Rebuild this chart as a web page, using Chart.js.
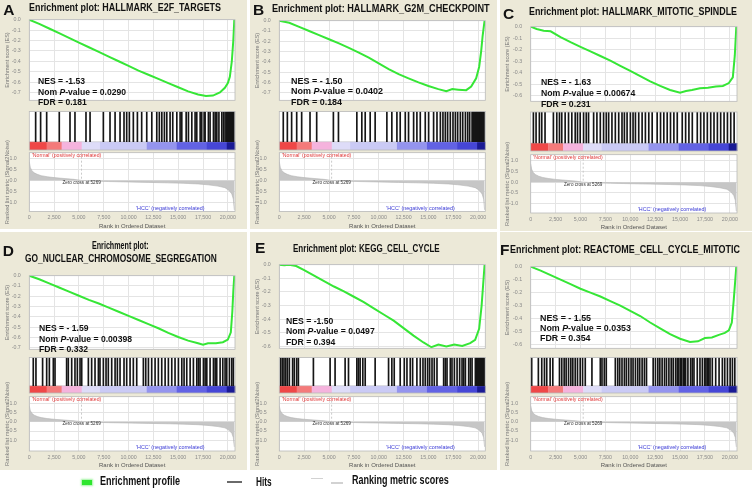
<!DOCTYPE html>
<html><head><meta charset="utf-8">
<script src="https://cdn.jsdelivr.net/npm/chart.js@4.4.1/dist/chart.umd.min.js"></script>
<style>
html,body{margin:0;padding:0;background:#fff}
body{width:752px;height:503px;position:relative;overflow:hidden;font-family:"Liberation Sans",Arial,sans-serif}
.panel{position:absolute;background:#ece9d8}
canvas{position:absolute;display:block}
.txt{position:absolute;white-space:nowrap;transform-origin:0 50%;color:#111}
.sw{position:absolute}
</style></head><body>
<script>
// ---------------- DATA ----------------
const XMAX = 20720;
const xTickValues = [0, 2500, 5000, 7500, 10000, 12500, 15000, 17500, 20000];
const rankedTicks = [1.0, 0.5, 0.0, -0.5, -1.0];
const esTicks7 = [0, -0.1, -0.2, -0.3, -0.4, -0.5, -0.6, -0.7];
const esTicks6 = [0, -0.1, -0.2, -0.3, -0.4, -0.5, -0.6];

const metricRanks  = [0, 100, 250, 500, 800, 1200, 1800, 2500, 3500, 4500, 5269, 6500, 8000, 10000, 12000, 14000, 15500, 17000, 18000, 19000, 19700, 20100, 20400, 20550, 20650];
const metricValues = [0.85, 0.6, 0.45, 0.35, 0.28, 0.22, 0.17, 0.13, 0.09, 0.05, 0, -0.03, -0.05, -0.07, -0.09, -0.11, -0.13, -0.16, -0.2, -0.26, -0.33, -0.45, -0.62, -0.85, -1.35];
const zeroCross = 5269;

const bandEdges  = [0, 1750, 3260, 5280, 7120, 11830, 14850, 17880, 19890, 20720];
const bandColors = ['#ef4747', '#f47a7a', '#f5b3dd', '#dedcf8', '#cacaf5', '#9494ee', '#6262e4', '#4646d6', '#1a1a94'];

const panelLetters = ['A', 'B', 'C', 'D', 'E', 'F'];
const geneSets = ['HALLMARK_E2F_TARGETS', 'HALLMARK_G2M_CHECKPOINT', 'HALLMARK_MITOTIC_SPINDLE', 'GO_NUCLEAR_CHROMOSOME_SEGREGATION', 'KEGG_CELL_CYCLE', 'REACTOME_CELL_CYCLE_MITOTIC'];
const nesValues = ['-1.53', '- 1.50', '- 1.63', '- 1.59', '-1.50', '- 1.55'];
const pValues   = ['0.0290', '0.0402', '0.00674', '0.00398', '0.0497', '0.0353'];
const fdrValues = ['0.181', '0.184', '0.231', '0.332', '0.394', '0.354'];

const esRanksA  = [0,1000,2000,3000,4000,5000,6000,7000,8000,9000,10000,11000,12000,13000,14000,15000,16000,17000,17800,18500,19200,19700,20000,20200,20400,20550,20650];
const esValuesA = [0,-0.04,-0.085,-0.13,-0.175,-0.22,-0.265,-0.31,-0.355,-0.40,-0.445,-0.49,-0.53,-0.57,-0.61,-0.65,-0.69,-0.72,-0.735,-0.73,-0.70,-0.655,-0.61,-0.55,-0.40,-0.20,0];
const hitsA = [640,1140,1750,3020,4100,4600,5710,6120,7460,8130,8640,9140,9540,9810,10080,10480,10890,11320,11830,12340,12840,13100,13350,13610,13850,14180,14450,14860,15190,15360,15800,16030,16370,16700,16870,17210,17370,17610,17710,18040,18210,18550,18720,18890,19100,19390,19560,19720,19850,19960,20040,20120,20200,20280,20360,20440,20520,20600];

const esRanksB  = [0,1000,2000,3000,4000,5000,6000,7000,8000,9000,10000,11000,12000,13000,14000,15000,16000,16800,17400,18000,18800,19300,19800,20100,20300,20450,20580,20650];
const esValuesB = [0,-0.02,-0.06,-0.10,-0.14,-0.18,-0.22,-0.265,-0.31,-0.36,-0.415,-0.47,-0.52,-0.56,-0.60,-0.635,-0.665,-0.685,-0.665,-0.67,-0.675,-0.64,-0.56,-0.45,-0.30,-0.15,-0.05,0];
const hitsB = [400,810,1240,1750,2250,3090,3760,5440,5950,7800,8300,8640,9140,9640,10820,11320,11830,12160,12670,13000,13510,13840,14180,14680,15020,15520,15860,16200,16460,16700,16930,17200,17470,17710,17940,18210,18450,18720,18950,19150,19390,19470,19550,19630,19710,19790,19870,19950,20030,20110,20190,20270,20350,20430,20510,20590];

const esRanksC  = [0,600,1300,2000,3000,4000,5000,6000,7000,8000,9000,10000,11000,12000,13000,14000,15000,15600,16200,17000,17800,18600,19300,19900,20300,20500,20650];
const esValuesC = [0,-0.02,-0.035,-0.04,-0.09,-0.135,-0.175,-0.215,-0.255,-0.295,-0.34,-0.385,-0.43,-0.475,-0.515,-0.55,-0.575,-0.56,-0.55,-0.535,-0.53,-0.52,-0.515,-0.49,-0.44,-0.25,0];
const hitsC = [270,540,870,1110,1440,2280,2620,2890,3120,3460,3800,4130,4470,4700,4970,5310,5580,5810,6320,6650,6990,7320,7590,7830,8160,8500,8840,9170,9410,9680,10010,10280,10520,10850,11190,11520,11860,12200,12700,13040,13370,13710,14040,14380,14720,15220,15560,15890,16230,16730,17070,17400,17740,18080,18410,18750,19080,19420,19760,20090,20430];

const esRanksD  = [0,1000,2000,3000,4000,5000,6000,7000,8000,9000,10000,11000,12000,13000,14000,15000,16000,17000,17500,18000,18800,19500,20000,20300,20450,20550,20650];
const esValuesD = [0,-0.035,-0.075,-0.115,-0.155,-0.195,-0.235,-0.27,-0.31,-0.35,-0.39,-0.43,-0.47,-0.51,-0.555,-0.595,-0.63,-0.655,-0.67,-0.655,-0.655,-0.645,-0.62,-0.55,-0.35,-0.15,0];
const hitsD = [400,670,1340,1750,2020,2420,2590,3760,3930,4270,4600,4840,5110,5280,5950,6280,6620,6960,7120,7460,7730,7960,8300,8640,8870,9140,9540,9810,10150,10480,10820,11490,11730,12000,12330,12670,13000,13340,13680,14010,14350,14680,15020,15360,15590,15860,16200,16530,16870,17040,17200,17540,17710,17880,18210,18550,18720,18880,19220,19490,19720,19890,20160,20400,20560];

const esRanksE  = [0,500,1000,1700,2500,3500,4500,5500,6500,7500,8500,9500,10500,11500,12500,13500,14500,15300,16000,16800,17600,18400,19200,19700,20100,20350,20500,20650];
const esValuesE = [0,-0.005,0,-0.01,-0.04,-0.08,-0.12,-0.16,-0.195,-0.235,-0.275,-0.32,-0.365,-0.41,-0.465,-0.52,-0.57,-0.605,-0.585,-0.60,-0.585,-0.595,-0.575,-0.55,-0.47,-0.30,-0.15,0];
const hitsE = [130,300,470,640,810,1010,1340,1510,1750,1920,3430,5110,5610,6620,6960,7800,7960,8130,8400,8640,9640,10990,11320,11560,12160,12570,12840,13170,13410,13840,14180,14450,14680,14920,15120,15360,15590,15860,16530,16700,16870,17200,17370,17610,17880,18140,18380,18550,18720,19050,19220,19390,19720,19800,19880,19960,20040,20120,20200,20280,20360,20440,20520,20600];

const esRanksF  = [0,1000,2000,3000,4000,5000,6000,7000,8000,9000,10000,11000,12000,13000,14000,15000,16000,16800,17500,18200,18900,19500,19900,20200,20400,20550,20650];
const esValuesF = [0,-0.03,-0.065,-0.1,-0.135,-0.17,-0.2,-0.23,-0.265,-0.3,-0.34,-0.38,-0.43,-0.475,-0.52,-0.555,-0.58,-0.575,-0.55,-0.545,-0.525,-0.51,-0.49,-0.43,-0.25,-0.1,0];
const hitsF = [100,770,1110,1380,1610,1950,2220,2890,3120,3360,3560,3800,4030,4230,4470,4700,4970,5210,5480,6150,6990,7160,7390,7590,8500,8740,8940,9170,9410,9610,9840,10080,10280,10520,10750,10950,11190,11420,11630,12300,12530,12770,12970,13200,13440,13640,13880,14110,14310,14550,14720,14880,15050,15150,15320,15440,15560,15790,16060,16230,16400,16730,17000,17240,17470,17600,17740,17870,18010,18240,18580,18920,19250,19490,19760,20030,20260,20500];

// ---------------- LAYOUT ----------------
const geoms = [
  {box:[0,0,247,229],   plotL:29.3, plotR:235,   esZero:15.7, esUnit:119,   esBot:108,   hitsTop:111.5, bandTop:141.7, bandBot:150, rankTop:150.5, rankZero:179.3, rankUnit:22.6, rankBot:211.5},
  {box:[250,0,247,229], plotL:279.3,plotR:485.3, esZero:16.7, esUnit:118,   esBot:108,   hitsTop:111.5, bandTop:141.7, bandBot:150, rankTop:150.5, rankZero:179.3, rankUnit:22.6, rankBot:211.5},
  {box:[500,0,252,231], plotL:530.7,plotR:737,   esZero:22,   esUnit:133.3, esBot:108.5, hitsTop:112,   bandTop:143,   bandBot:151, rankTop:151.5, rankZero:180.5, rankUnit:22.6, rankBot:213},
  {box:[0,232,247,238], plotL:29.3, plotR:235,   esZero:271.5,esUnit:119,   esBot:356.5, hitsTop:357.5, bandTop:385.7, bandBot:393, rankTop:393.5, rankZero:420, rankUnit:19.7, rankBot:451},
  {box:[250,232,247,238],plotL:279.3,plotR:485.3,esZero:260.7,esUnit:155.5, esBot:356,   hitsTop:357.5, bandTop:385.7, bandBot:393, rankTop:393.5, rankZero:420, rankUnit:19.7, rankBot:451},
  {box:[500,232,252,238],plotL:530.7,plotR:737,  esZero:262,  esUnit:149.5, esBot:356,   hitsTop:357.5, bandTop:385.7, bandBot:393, rankTop:393.5, rankZero:420, rankUnit:19.7, rankBot:451}
];
const titleSpecs = [
  [{x:29.3, cy:7.5, w:192}],
  [{x:271.7, cy:9, w:217.6}],
  [{x:529.3, cy:12.3, w:208}],
  [{cx:120.5, cy:245.7, w:56.7, line:0}, {x:25, cy:259.3, w:191.7, line:1}],
  [{x:293.3, cy:249, w:146.7}],
  [{x:510, cy:250, w:230}]
];
const letterPos = [[3.3,10],[253,10],[503,13.3],[2.7,251],[255,248],[500,250]];
const nesPos = [
  {x:38.3, cy:[81,91.5,102], w:88}, {x:290.7, cy:[80.7,91,102], w:92}, {x:540.7, cy:[82,92.3,103.3], w:94.3},
  {x:39.3, cy:[327.7,338.3,349], w:93}, {x:285.7, cy:[320.7,330.7,341.7], w:88.7}, {x:540, cy:[317.3,327.3,337.3], w:91}
];

const esRanks = [esRanksA, esRanksB, esRanksC, esRanksD, esRanksE, esRanksF];
const esValues = [esValuesA, esValuesB, esValuesC, esValuesD, esValuesE, esValuesF];
const hitsAll = [hitsA, hitsB, hitsC, hitsD, hitsE, hitsF];
const esTicksAll = [esTicks7, esTicks7, esTicks6, esTicks7, esTicks6, esTicks6];

// ---------------- HELPERS ----------------
Chart.defaults.font.family = '"Liberation Sans", Arial, sans-serif';
const FONT = '"Liberation Sans", Arial, sans-serif';
const GRID = '#e4e4e4';
const TICK = '#8a8a8a';

function makeCanvas(x0, y0, x1, y1) {
  const L = Math.floor(x0), T = Math.floor(y0), R = Math.ceil(x1), B = Math.ceil(y1);
  const c = document.createElement('canvas');
  c.width = R - L; c.height = B - T;
  c.style.left = L + 'px'; c.style.top = T + 'px';
  c.style.width = (R - L) + 'px'; c.style.height = (B - T) + 'px';
  document.body.appendChild(c);
  return {c, L, T, R, B};
}
const framePlugin = {
  id: 'frame',
  beforeDraw(chart) {
    const a = chart.chartArea, ctx = chart.ctx;
    ctx.save(); ctx.fillStyle = '#ffffff';
    ctx.fillRect(a.left, a.top, a.right - a.left, a.bottom - a.top); ctx.restore();
  },
  afterDraw(chart) {
    const a = chart.chartArea, ctx = chart.ctx;
    ctx.save(); ctx.strokeStyle = '#b9b9b9'; ctx.lineWidth = 0.8;
    ctx.strokeRect(a.left, a.top, a.right - a.left, a.bottom - a.top); ctx.restore();
  }
};
const bandPlugin = {
  id: 'band',
  beforeDatasetsDraw(chart) {
    const {ctx, scales: {x, y}} = chart;
    const y0 = y.getPixelForValue(0), y1 = y.getPixelForValue(y.min);
    ctx.save();
    for (let i = 0; i < bandColors.length; i++) {
      const a = x.getPixelForValue(bandEdges[i]), b = x.getPixelForValue(bandEdges[i + 1]);
      ctx.fillStyle = bandColors[i];
      ctx.fillRect(a, y0, b - a + 0.3, y1 - y0);
    }
    ctx.strokeStyle = '#c8c8c8'; ctx.lineWidth = 0.6;
    ctx.beginPath(); ctx.moveTo(chart.chartArea.left, y0); ctx.lineTo(chart.chartArea.right, y0); ctx.stroke();
    ctx.restore();
  }
};
const rankPlugin = {
  id: 'rankLabels',
  beforeDatasetsDraw(chart) {
    const {ctx, chartArea: a, scales: {x, y}} = chart;
    const zx = x.getPixelForValue(zeroCross);
    ctx.save(); ctx.strokeStyle = '#bdbdbd'; ctx.lineWidth = 0.8; ctx.setLineDash([2, 2]);
    ctx.beginPath(); ctx.moveTo(zx, a.top); ctx.lineTo(zx, y.getPixelForValue(0)); ctx.stroke();
    ctx.restore();
  },
  afterDatasetsDraw(chart) {
    const {ctx, chartArea: a, scales: {x, y}} = chart;
    const zx = x.getPixelForValue(zeroCross), zy = y.getPixelForValue(0);
    ctx.save();
    ctx.textBaseline = 'top'; ctx.textAlign = 'left';
    ctx.font = '5.2px ' + FONT; ctx.fillStyle = '#e03a3a';
    ctx.fillText("'Normal' (positively correlated)", a.left + 2.5, a.top + 0.3);
    ctx.textAlign = 'center'; ctx.textBaseline = 'middle';
    ctx.font = '4.6px ' + FONT; ctx.fillStyle = '#333';
    ctx.fillText('Zero cross at ' + zeroCross, zx, zy + 2.4);
    ctx.font = '5.4px ' + FONT; ctx.fillStyle = '#3a3ad6';
    ctx.fillText("'HCC' (negatively correlated)", x.getPixelForValue(14200), a.bottom - 3.4);
    ctx.restore();
  }
};
function fixedTicks(arr) { return s => { s.ticks = arr.map(v => ({value: v})); }; }

function addText(html, o) {
  const d = document.createElement('div');
  d.className = 'txt'; d.innerHTML = html;
  d.style.font = o.font; d.style.lineHeight = '1';
  if (o.color) d.style.color = o.color;
  document.body.appendChild(d);
  const r = d.getBoundingClientRect();
  const s = o.scale !== undefined ? o.scale : (o.w ? o.w / r.width : 1);
  const left = o.cx !== undefined ? o.cx - r.width * s / 2 : o.x;
  d.style.left = left + 'px';
  d.style.top = (o.cy - r.height / 2) + 'px';
  d.style.transform = 'scaleX(' + s + ')';
  return s;
}

// ---------------- BUILD PANELS ----------------
geoms.forEach((g, i) => {
  const bg = document.createElement('div');
  bg.className = 'panel';
  bg.style.left = g.box[0] + 'px'; bg.style.top = g.box[1] + 'px';
  bg.style.width = g.box[2] + 'px'; bg.style.height = g.box[3] + 'px';
  document.body.appendChild(bg);
});

geoms.forEach((g, i) => {
  // --- Enrichment score line chart ---
  const e = makeCanvas(g.box[0], g.esZero - 7, g.plotR + 4, g.esBot + 4);
  const esMin = -(g.esBot - g.esZero) / g.esUnit;
  new Chart(e.c, {
    type: 'line',
    data: {datasets: [{
      data: esRanks[i].map((r, k) => ({x: r, y: esValues[i][k]})),
      borderColor: '#36e636', borderWidth: 2, pointRadius: 0, tension: 0, fill: false
    }]},
    options: {
      responsive: false, animation: false, devicePixelRatio: 1,
      layout: {padding: {left: 0, top: g.esZero - e.T, right: e.R - g.plotR, bottom: e.B - g.esBot}},
      plugins: {legend: {display: false}, tooltip: {enabled: false}},
      scales: {
        x: {type: 'linear', min: 0, max: XMAX, offset: false, afterBuildTicks: fixedTicks(xTickValues),
            ticks: {display: false}, grid: {color: GRID, drawTicks: false}, border: {display: false},
            afterFit: s => { s.height = 0; }},
        y: {type: 'linear', min: esMin, max: 0, afterBuildTicks: fixedTicks(esTicksAll[i]),
            ticks: {font: {size: 5.3}, color: TICK, padding: 8.5, callback: v => Number(v).toFixed(1)},
            grid: {color: GRID, drawTicks: false}, border: {display: false},
            title: {display: true, text: 'Enrichment score (ES)', font: {size: 5.5}, color: '#777', padding: {top: 4.5, bottom: 0}},
            afterFit: s => { s.width = g.plotL - e.L; }}
      }
    },
    plugins: [framePlugin]
  });

  // --- Hits + colour band ---
  const h = makeCanvas(g.plotL - 1, g.hitsTop - 1, g.plotR + 1, g.bandBot + 1);
  const hitsMin = -(g.bandBot - g.bandTop) / (g.bandTop - g.hitsTop);
  new Chart(h.c, {
    type: 'bar',
    data: {datasets: [{
      data: hitsAll[i].map(r => ({x: r, y: [0, 1]})),
      backgroundColor: '#151515', borderWidth: 0, barThickness: 1
    }]},
    options: {
      responsive: false, animation: false, devicePixelRatio: 1,
      layout: {padding: {left: g.plotL - h.L, top: g.hitsTop - h.T, right: h.R - g.plotR, bottom: h.B - g.bandBot}},
      plugins: {legend: {display: false}, tooltip: {enabled: false}},
      scales: {
        x: {type: 'linear', min: 0, max: XMAX, offset: false, display: false, grid: {offset: false}},
        y: {type: 'linear', min: hitsMin, max: 1, display: false}
      }
    },
    plugins: [framePlugin, bandPlugin]
  });

  // --- Ranked list metric ---
  const k = makeCanvas(g.box[0], g.bandTop - 4, g.plotR + 12, g.rankBot + 18.5);
  const XH = 18.1;
  new Chart(k.c, {
    type: 'line',
    data: {datasets: [{
      data: metricRanks.map((r, j) => ({x: r, y: metricValues[j]})),
      borderColor: '#b4b4b4', borderWidth: 0.6, backgroundColor: '#c6c6c6',
      fill: 'origin', pointRadius: 0, tension: 0
    }]},
    options: {
      responsive: false, animation: false, devicePixelRatio: 1,
      layout: {padding: {left: 0, top: g.rankTop - k.T, right: k.R - g.plotR, bottom: k.B - g.rankBot - XH}},
      plugins: {legend: {display: false}, tooltip: {enabled: false}},
      scales: {
        x: {type: 'linear', min: 0, max: XMAX, offset: false, afterBuildTicks: fixedTicks(xTickValues),
            ticks: {font: {size: 5.3}, color: TICK, padding: 3, maxRotation: 0, autoSkip: false,
                    callback: v => Number(v).toLocaleString('en-US')},
            grid: {color: GRID, drawTicks: false}, border: {display: false},
            title: {display: true, text: 'Rank in Ordered Dataset', font: {size: 6}, color: '#555', padding: {top: 0, bottom: 0}},
            afterFit: s => { s.height = XH; }},
        y: {type: 'linear', min: -(g.rankBot - g.rankZero) / g.rankUnit, max: (g.rankZero - g.rankTop) / g.rankUnit,
            afterBuildTicks: fixedTicks(rankedTicks),
            ticks: {font: {size: 5.3}, color: TICK, padding: 12.5, callback: v => Number(v).toFixed(1)},
            grid: {color: GRID, drawTicks: false}, border: {display: false},
            title: {display: true, text: 'Ranked list metric (Signal2Noise)', font: {size: 5.7}, color: '#777', padding: {top: 4.5, bottom: 0}},
            afterFit: s => { s.width = g.plotL - k.L; }}
      }
    },
    plugins: [framePlugin, rankPlugin]
  });
});

// ---------------- TEXT OVERLAYS ----------------
geoms.forEach((g, i) => {
  addText(panelLetters[i], {x: letterPos[i][0], cy: letterPos[i][1], font: 'bold 15.5px ' + FONT});
  const specs = titleSpecs[i];
  if (specs.length === 1) {
    addText('Enrichment plot: ' + geneSets[i], {x: specs[0].x, cy: specs[0].cy, w: specs[0].w, font: 'bold 10px ' + FONT});
  } else {
    addText('Enrichment plot:', {cx: specs[0].cx, cy: specs[0].cy, w: specs[0].w, font: 'bold 10px ' + FONT});
    addText(geneSets[i], {x: specs[1].x, cy: specs[1].cy, w: specs[1].w, font: 'bold 10px ' + FONT});
  }
  const n = nesPos[i];
  const f = 'bold 9.4px ' + FONT;
  const s = addText('Nom <i>P</i>-value = ' + pValues[i], {x: n.x, cy: n.cy[1], w: n.w, font: f});
  addText('NES = ' + nesValues[i], {x: n.x, cy: n.cy[0], scale: s, font: f});
  addText('FDR = ' + fdrValues[i], {x: n.x, cy: n.cy[2], scale: s, font: f});
});

// ---------------- FIGURE LEGEND ----------------
function swatch(x, y, w, hgt, color, extra) {
  const d = document.createElement('div'); d.className = 'sw';
  d.style.left = x + 'px'; d.style.top = y + 'px'; d.style.width = w + 'px'; d.style.height = hgt + 'px';
  d.style.background = color; if (extra) d.style.boxShadow = extra;
  document.body.appendChild(d);
}
swatch(82, 480, 10, 4.5, '#2ee62e', '0 0 2px 1px rgba(120,240,120,0.7)');
swatch(227, 481, 15, 2.2, '#6a6a6a');
swatch(311, 477.5, 12, 1.6, '#d2d2d2');
swatch(331, 482.3, 12, 1.6, '#d2d2d2');
addText('Enrichment profile', {x: 100, cy: 481.5, w: 80, font: 'bold 12.5px ' + FONT});
addText('Hits', {x: 256, cy: 482, w: 15.7, font: 'bold 12.5px ' + FONT});
addText('Ranking metric scores', {x: 352, cy: 480.5, w: 96.7, font: 'bold 12.5px ' + FONT});
</script>
</body></html>
